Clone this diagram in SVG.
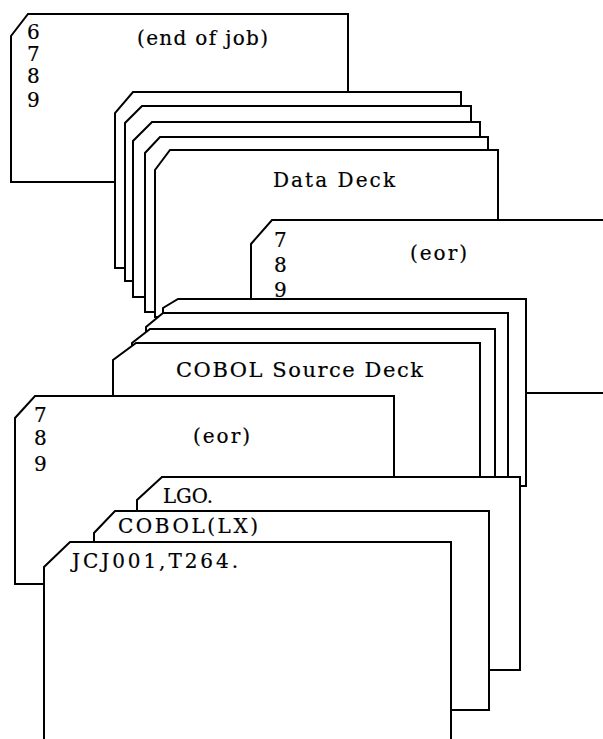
<svg xmlns="http://www.w3.org/2000/svg" width="603" height="739" viewBox="0 0 603 739">
  <style>
    .card { fill: #fff; stroke: #000; stroke-width: 2; stroke-linejoin: miter; }
    .t { font-family: "DejaVu Serif", "Liberation Serif", serif; font-size: 20px; fill: #000; stroke: #000; stroke-width: 0.2; }
    .big { font-size: 21px; }
  </style>
  <rect width="603" height="739" fill="#fff"/>

  <!-- cards are painted back to front; white fill hides the cards behind -->
  <g id="card-end-of-job">
    <path class="card" d="M28,14 L348,14 L348,182 L11,182 L11,36 Z"/>
    <text class="t" x="27" y="39">6</text>
    <text class="t" x="27" y="61">7</text>
    <text class="t" x="27" y="83">8</text>
    <text class="t" x="27" y="107">9</text>
    <text class="t" x="137" y="45" textLength="131" lengthAdjust="spacing">(end of job)</text>
  </g>

  <g id="data-deck-1"><path class="card" d="M133,92 L461,92 L461,268 L115,268 L115,113 Z"/></g>
  <g id="data-deck-2"><path class="card" d="M142,106 L471,106 L471,281 L125,281 L125,123 Z"/></g>
  <g id="data-deck-3"><path class="card" d="M152,122 L480,122 L480,297 L133,297 L133,141 Z"/></g>
  <g id="data-deck-4"><path class="card" d="M160,137 L488,137 L488,312 L145,312 L145,153 Z"/></g>
  <g id="data-deck-5">
    <path class="card" d="M170,150 L498,150 L498,317 L155,317 L155,170 Z"/>
    <text class="t" x="273" y="187" textLength="122" lengthAdjust="spacing">Data Deck</text>
  </g>

  <g id="card-eor-1">
    <path class="card" d="M272,220 L612,220 L612,393 L251,393 L251,244 Z"/>
    <text class="t" x="274" y="247">7</text>
    <text class="t" x="274" y="272">8</text>
    <text class="t" x="274" y="297">9</text>
    <text class="t" x="410" y="260" textLength="57" lengthAdjust="spacing">(eor)</text>
  </g>

  <g id="cobol-source-1"><path class="card" d="M178,299 L526,299 L526,486 L163,486 L163,308 Z"/></g>
  <g id="cobol-source-2"><path class="card" d="M163,313 L508,313 L508,500 L146,500 L146,327 Z"/></g>
  <g id="cobol-source-3"><path class="card" d="M150,329 L495,329 L495,500 L132,500 L132,343 Z"/></g>
  <g id="cobol-source-4">
    <path class="card" d="M136,343 L480,343 L480,500 L113,500 L113,360 Z"/>
    <text class="t big" x="176" y="377" textLength="247" lengthAdjust="spacing">COBOL Source Deck</text>
  </g>

  <g id="card-eor-2">
    <path class="card" d="M35,396 L394,396 L394,584 L15,584 L15,418 Z"/>
    <text class="t" x="34" y="422">7</text>
    <text class="t" x="34" y="445">8</text>
    <text class="t" x="34" y="471">9</text>
    <text class="t" x="193" y="443" textLength="57" lengthAdjust="spacing">(eor)</text>
  </g>

  <g id="card-lgo">
    <path class="card" d="M162,477 L520,477 L520,670 L137,670 L137,500 Z"/>
    <text class="t" x="163" y="503" textLength="50" lengthAdjust="spacingAndGlyphs">LGO.</text>
  </g>

  <g id="card-cobol-lx">
    <path class="card" d="M115,511 L489,511 L489,710 L94,710 L94,533 Z"/>
    <text class="t" x="118" y="533" textLength="140" lengthAdjust="spacing">COBOL(LX)</text>
  </g>

  <g id="card-job">
    <path class="card" d="M70,542 L451,542 L451,750 L44,750 L44,567 Z"/>
    <text class="t" x="72" y="568" textLength="166" lengthAdjust="spacing">JCJ001,T264.</text>
  </g>
</svg>
